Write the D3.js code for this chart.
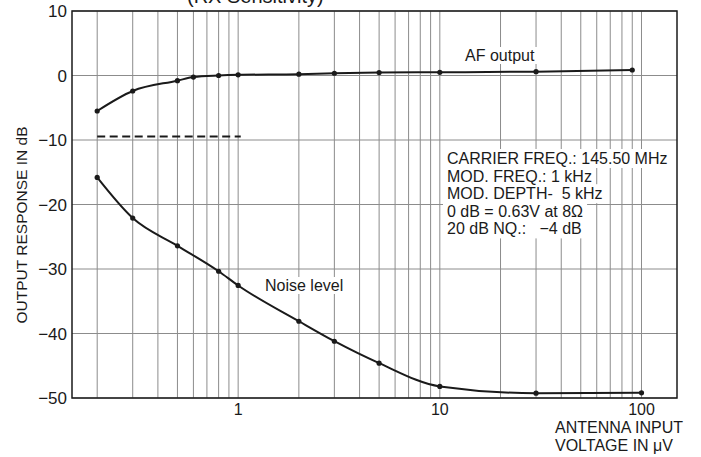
<!DOCTYPE html>
<html>
<head>
<meta charset="utf-8">
<script src="https://cdn.jsdelivr.net/npm/d3@7"></script>
<style>
  body { margin: 0; background: #fff; }
  svg { font-family: "Liberation Sans", Arial, sans-serif; }
  text { white-space: pre; }
</style>
</head>
<body>
<svg class="chart" width="701" height="457"></svg>
<script>
// RX sensitivity chart: AF output and noise level vs antenna input

// data
var afInput = [0.2, 0.3, 0.5, 0.6, 0.8, 1, 2, 3, 5, 10, 30, 90];
var afLevel = [-5.5, -2.4, -0.8, -0.25, 0, 0.1, 0.2, 0.35, 0.45, 0.5, 0.6, 0.85];
var noiseInput = [0.2, 0.3, 0.5, 0.8, 1, 2, 3, 5, 10, 30, 100];
var noiseLevel = [-15.8, -22.1, -26.4, -30.35, -32.55, -38.1, -41.2, -44.6, -48.2, -49.25, -49.2];
var refInput = [0.2, 1.03];   // dashed 20 dB NQ reference
var refLevel = -9.45;
var yTicks = [10, 0, -10, -20, -30, -40, -50];
var xTickLabels = [1, 10, 100];
var infoLines = ["CARRIER FREQ.: 145.50 MHz", "MOD. FREQ.: 1 kHz", "MOD. DEPTH-  5 kHz",
                 "0 dB = 0.63V at 8\u03A9", "20 dB NQ.:   \u22124 dB"];

var svg = d3.select(".chart"),
    width = +svg.attr("width"),
    height = +svg.attr("height");
var margin = {top: 11, right: 24, bottom: 59, left: 72};

var x = d3.scaleLog().domain([0.15, 150]).range([margin.left, width - margin.right]);
var y = d3.scaleLinear().domain([-50, 10]).range([height - margin.bottom, margin.top]);

var ink = "#1a1a1a";

// heading, mostly cut off by the top edge
svg.append("text")
    .attr("x", 187).attr("y", 3)
    .attr("font-size", 20)
    .attr("fill", ink)
    .text("(RX Sensitivity)");

// grid
var grid = svg.append("g");
grid.selectAll(".vg")
    .data(x.ticks().filter(function (d) { return d > 0.15 && d < 150; }))
    .enter().append("line")
    .attr("x1", function (d) { return x(d); })
    .attr("x2", function (d) { return x(d); })
    .attr("y1", y(10)).attr("y2", y(-50))
    .attr("stroke", "#8c8c8c").attr("stroke-width", 1);
grid.selectAll(".hg")
    .data(yTicks)
    .enter().append("line")
    .attr("x1", x(0.15)).attr("x2", x(150))
    .attr("y1", function (d) { return y(d); })
    .attr("y2", function (d) { return y(d); })
    .attr("stroke", "#8c8c8c").attr("stroke-width", 1);

// info text with white backing
var info = svg.append("g").attr("font-size", 16).attr("fill", ink);
infoLines.forEach(function (t, i) {
  var tx = info.append("text").attr("x", 447).attr("y", 164 + i * 17.6).text(t);
  var bb = tx.node().getBBox();
  info.insert("rect", "text")
      .attr("x", bb.x - 4).attr("y", bb.y - 1)
      .attr("width", bb.width + 8).attr("height", bb.height + 2)
      .attr("fill", "#fff");
});

function label(t, lx, ly) {
  var g = svg.append("g");
  var tx = g.append("text").attr("x", lx).attr("y", ly)
      .attr("font-size", 16).attr("fill", ink).text(t);
  var bb = tx.node().getBBox();
  g.insert("rect", "text")
      .attr("x", bb.x - 3).attr("y", bb.y)
      .attr("width", bb.width + 6).attr("height", bb.height)
      .attr("fill", "#fff");
}
label("AF output", 465, 61);
label("Noise level", 265, 291);

// frame
svg.append("rect")
    .attr("x", x(0.15)).attr("y", y(10))
    .attr("width", x(150) - x(0.15)).attr("height", y(-50) - y(10))
    .attr("fill", "none").attr("stroke", ink).attr("stroke-width", 1.5);

// dashed reference
svg.append("line")
    .attr("x1", x(refInput[0])).attr("x2", x(refInput[1]))
    .attr("y1", y(refLevel)).attr("y2", y(refLevel))
    .attr("stroke", ink).attr("stroke-width", 2)
    .attr("stroke-dasharray", "8,4.5");

// curves
var line = d3.line()
    .x(function (d) { return x(d[0]); })
    .y(function (d) { return y(d[1]); })
    .curve(d3.curveMonotoneX);

var afData = d3.zip(afInput, afLevel);
var noiseData = d3.zip(noiseInput, noiseLevel);

[afData, noiseData].forEach(function (data) {
  svg.append("path")
      .attr("d", line(data))
      .attr("fill", "none")
      .attr("stroke", ink)
      .attr("stroke-width", 2);
  svg.append("g").selectAll("circle")
      .data(data)
      .enter().append("circle")
      .attr("cx", function (d) { return x(d[0]); })
      .attr("cy", function (d) { return y(d[1]); })
      .attr("r", 2.6)
      .attr("fill", ink);
});

// y tick labels
svg.append("g").selectAll("text")
    .data(yTicks)
    .enter().append("text")
    .attr("x", 67)
    .attr("y", function (d) { return y(d) + 6; })
    .attr("text-anchor", "end")
    .attr("font-size", 17)
    .attr("fill", ink)
    .text(function (d) { return d < 0 ? "\u2212" + Math.abs(d) : d; });

// x tick labels
svg.append("g").selectAll("text")
    .data(xTickLabels)
    .enter().append("text")
    .attr("x", function (d) { return x(d); })
    .attr("y", 415)
    .attr("text-anchor", "middle")
    .attr("font-size", 16)
    .attr("fill", ink)
    .text(function (d) { return d; });

// axis titles
svg.append("text")
    .attr("transform", "translate(27," + 225 + ") rotate(-90)")
    .attr("text-anchor", "middle")
    .attr("font-size", 15.5)
    .attr("fill", ink)
    .text("OUTPUT RESPONSE IN dB");

svg.append("text")
    .attr("x", 555).attr("y", 433)
    .attr("font-size", 16).attr("fill", ink)
    .text("ANTENNA INPUT");
svg.append("text")
    .attr("x", 555).attr("y", 451)
    .attr("font-size", 16).attr("fill", ink)
    .text("VOLTAGE IN \u03BCV");
</script>
</body>
</html>
